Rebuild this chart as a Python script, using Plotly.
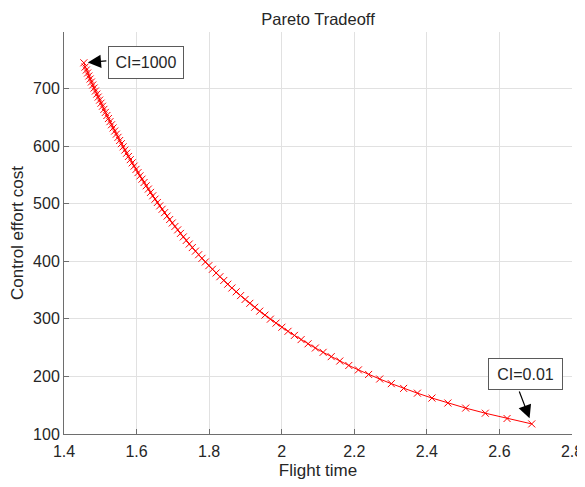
import plotly.graph_objects as go

# Pareto front points (flight time, control effort cost)
flight_time = [
    2.689, 2.621, 2.561, 2.507, 2.458, 2.414, 2.374, 2.336, 2.302, 2.270,
    2.2395, 2.2114, 2.1849, 2.1600, 2.1364, 2.1141, 2.0928, 2.0726, 2.0534, 2.0350,
    2.0174, 2.0005, 1.9843, 1.9687, 1.9538, 1.9394, 1.9255, 1.9121, 1.8991, 1.8866,
    1.8745, 1.8627, 1.8513, 1.8403, 1.8296, 1.8192, 1.8090, 1.7991, 1.7896, 1.7802,
    1.7711, 1.7623, 1.7536, 1.7452, 1.7369, 1.7288, 1.7210, 1.7133, 1.7058, 1.6984,
    1.6912, 1.6841, 1.6772, 1.6704, 1.6638, 1.6573, 1.6509, 1.6446, 1.6385, 1.6325,
    1.6265, 1.6207, 1.6150, 1.6094, 1.6039, 1.5985, 1.5931, 1.5879, 1.5827, 1.5776,
    1.5726, 1.5677, 1.5629, 1.5581, 1.5534, 1.5488, 1.5442, 1.5397, 1.5353, 1.5309,
    1.5266, 1.5224, 1.5182, 1.5140, 1.5100, 1.5060, 1.5020, 1.4981, 1.4942, 1.4904,
    1.4866, 1.4829, 1.4792, 1.4756, 1.4720, 1.4684, 1.4650, 1.4615, 1.4581, 1.4547,
]
control_cost = [
    117.5, 126.9, 136.1, 145.0, 153.8, 162.4, 170.9, 179.2, 187.4, 195.5,
    203.4, 211.3, 219.0, 226.7, 234.3, 241.8, 249.3, 256.6, 263.9, 271.2,
    278.3, 285.4, 292.5, 299.4, 306.4, 313.3, 320.1, 326.9, 333.6, 340.3,
    346.9, 353.5, 360.1, 366.6, 373.1, 379.6, 386.0, 392.3, 398.7, 405.0,
    411.3, 417.5, 423.7, 429.9, 436.1, 442.2, 448.3, 454.4, 460.4, 466.4,
    472.4, 478.4, 484.3, 490.2, 496.1, 502.0, 507.8, 513.6, 519.5, 525.3,
    531.0, 536.7, 542.5, 548.2, 553.8, 559.5, 565.1, 570.8, 576.4, 581.9,
    587.5, 593.0, 598.6, 604.1, 609.6, 615.1, 620.6, 626.0, 631.4, 636.9,
    642.3, 647.7, 653.0, 658.4, 663.7, 669.1, 674.4, 679.7, 685.0, 690.2,
    695.5, 700.7, 706.0, 711.2, 716.4, 721.6, 726.8, 732.0, 737.1, 744.5,
]

x_ticks = [1.4, 1.6, 1.8, 2.0, 2.2, 2.4, 2.6, 2.8]
x_tick_labels = ["1.4", "1.6", "1.8", "2", "2.2", "2.4", "2.6", "2.8"]
y_ticks = [100, 200, 300, 400, 500, 600, 700]
y_tick_labels = ["100", "200", "300", "400", "500", "600", "700"]

label_high = "CI=1000"
label_low = "CI=0.01"

FONT = "Liberation Sans, Arial, Helvetica, sans-serif"
TXT = "rgb(38,38,38)"
AX = "rgb(110,110,110)"
GRID = "rgb(225,225,225)"

# the page body adds an 8px offset, so the figure is 8px smaller each way
W, H = 577, 479

fig = go.Figure()
fig.add_trace(go.Scatter(
    x=flight_time, y=control_cost, mode="lines+markers",
    line=dict(color="rgb(255,0,0)", width=1),
    marker=dict(symbol="x-thin", size=7, line=dict(color="rgb(255,0,0)", width=1)),
    showlegend=False, hoverinfo="x+y",
))

hi_x, hi_y = flight_time[-1], control_cost[-1]
lo_x, lo_y = flight_time[0], control_cost[0]

annotations = [
    # arrows
    dict(x=hi_x, y=hi_y, xref="x", yref="y", text="", showarrow=True,
         ax=24, ay=-2, standoff=4, arrowhead=2, arrowsize=2.2, arrowwidth=1.2,
         arrowcolor="black"),
    dict(x=lo_x, y=lo_y, xref="x", yref="y", text="", showarrow=True,
         ax=-13, ay=-34, standoff=6, arrowhead=2, arrowsize=2.2, arrowwidth=1.2,
         arrowcolor="black"),
    # text boxes
    dict(x=hi_x, y=hi_y, xref="x", yref="y", text=label_high, showarrow=False,
         xshift=62, yshift=0, font=dict(family=FONT, size=16, color=TXT),
         bgcolor="white", bordercolor="rgb(90,90,90)", borderwidth=1,
         width=72, height=29, borderpad=1, align="center", valign="middle"),
    dict(x=lo_x, y=lo_y, xref="x", yref="y", text=label_low, showarrow=False,
         xshift=-6, yshift=50, font=dict(family=FONT, size=16, color=TXT),
         bgcolor="white", bordercolor="rgb(90,90,90)", borderwidth=1,
         width=71, height=28, borderpad=1, align="center", valign="middle"),
]

fig.update_layout(
    width=W, height=H,
    margin=dict(l=56, r=13, t=24, b=53, autoexpand=False),
    paper_bgcolor="white", plot_bgcolor="white",
    font=dict(family=FONT, color=TXT, size=16),
    title=dict(text="Pareto Tradeoff", x=(56 + 254) / W, xanchor="center",
               y=1 - 11 / H, yanchor="middle", automargin=False,
               font=dict(family=FONT, size=16.5, color=TXT)),
    annotations=annotations,
    xaxis=dict(
        range=[1.4, 2.8], tickvals=x_ticks, ticktext=x_tick_labels,
        showgrid=True, gridcolor=GRID, gridwidth=1, zeroline=False,
        showline=True, linecolor=AX, linewidth=1, mirror=False,
        ticks="inside", ticklen=5, tickcolor=AX, automargin=False,
        ticklabelstandoff=3,
        tickfont=dict(family=FONT, size=16, color=TXT),
        title=dict(text="Flight time", standoff=4,
                   font=dict(family=FONT, size=17, color=TXT)),
    ),
    yaxis=dict(
        range=[100, 798], tickvals=y_ticks, ticktext=y_tick_labels,
        showgrid=True, gridcolor=GRID, gridwidth=1, zeroline=False,
        showline=True, linecolor=AX, linewidth=1, mirror=False,
        ticks="inside", ticklen=5, tickcolor=AX, automargin=False,
        tickfont=dict(family=FONT, size=16, color=TXT),
        title=dict(text="Control effort cost", standoff=8,
                   font=dict(family=FONT, size=17, color=TXT)),
    ),
)

fig.write_html("out.html")
